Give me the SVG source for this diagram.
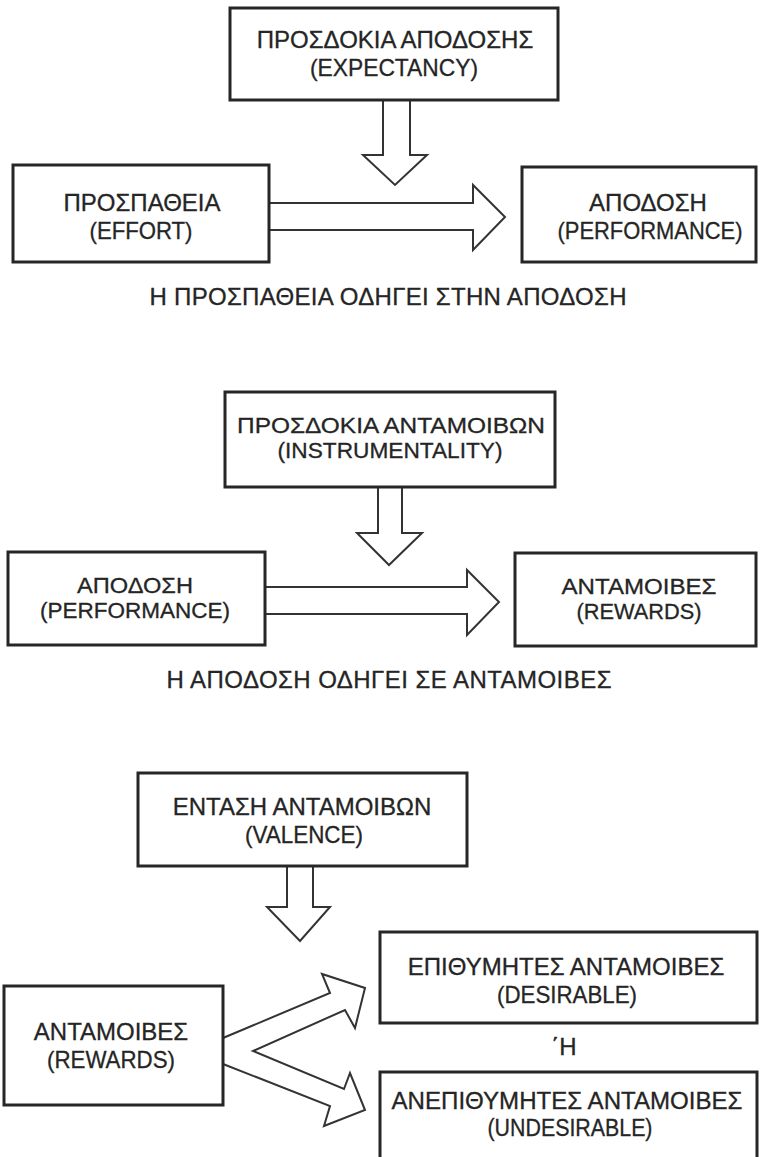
<svg xmlns="http://www.w3.org/2000/svg" width="760" height="1157" viewBox="0 0 760 1157">
<style>
.box{fill:#fff;stroke:#262626;stroke-width:3}
.arr{fill:#fff;stroke:#333;stroke-width:2;stroke-linejoin:miter}
text{font-family:"Liberation Sans",Arial,sans-serif;font-size:24px;fill:#252525;stroke:#252525;stroke-width:0.3;text-anchor:middle}
.s22{font-size:22px}
.s23{font-size:23px}
</style>
<rect width="760" height="1157" fill="#fff"/>
<g id="connectors">
<polygon class="arr" points="383,100 383,155 363,155 395,185 427,155 410,155 410,100"/>
<polyline class="arr" points="269,203 473,203 473,185 505,217 473,250 473,230 269,230"/>
<polygon class="arr" points="378,487 378,533 357,533 389,565 422,533 402,533 402,487"/>
<polyline class="arr" points="265,587 467,587 467,570 499,602 467,635 467,614 265,614"/>
<polygon class="arr" points="287,866 287,907 267,907 300,941 330,907 313,907 313,866"/>
<polyline class="arr" points="223,1038 330,993 322,974 365,988 355,1028 345,1010 253,1051 344,1089 350,1073 365,1110 324,1126 330,1106 223,1064"/>
</g>
<g id="expectancy">
<rect class="box" x="230" y="8" width="328" height="92"/>
<text x="395" y="48">ΠΡΟΣΔΟΚΙΑ ΑΠΟΔΟΣΗΣ</text>
<text x="394" y="76" textLength="168" lengthAdjust="spacingAndGlyphs">(EXPECTANCY)</text>
</g>
<g id="effort">
<rect class="box" x="13" y="165" width="256" height="97"/>
<text x="142" y="211">ΠΡΟΣΠΑΘΕΙΑ</text>
<text x="141" y="239" textLength="103" lengthAdjust="spacingAndGlyphs">(EFFORT)</text>
</g>
<g id="performance1">
<rect class="box" x="522" y="167" width="234" height="95"/>
<text x="648" y="211">ΑΠΟΔΟΣΗ</text>
<text x="650" y="239" textLength="185" lengthAdjust="spacingAndGlyphs">(PERFORMANCE)</text>
</g>
<g id="caption1">
<text x="388" y="305" textLength="477" lengthAdjust="spacing">Η ΠΡΟΣΠΑΘΕΙΑ ΟΔΗΓΕΙ ΣΤΗΝ ΑΠΟΔΟΣΗ</text>
</g>
<g id="instrumentality">
<rect class="box" x="225" y="392" width="330" height="95"/>
<text class="s22" x="391" y="433" textLength="308" lengthAdjust="spacingAndGlyphs">ΠΡΟΣΔΟΚΙΑ ΑΝΤΑΜΟΙΒΩΝ</text>
<text class="s22" x="390" y="458" textLength="225" lengthAdjust="spacingAndGlyphs">(INSTRUMENTALITY)</text>
</g>
<g id="performance2">
<rect class="box" x="8" y="552" width="257" height="93"/>
<text class="s22" x="135" y="593" textLength="116" lengthAdjust="spacingAndGlyphs">ΑΠΟΔΟΣΗ</text>
<text class="s22" x="135" y="618" textLength="190" lengthAdjust="spacingAndGlyphs">(PERFORMANCE)</text>
</g>
<g id="rewards1">
<rect class="box" x="515" y="553" width="241" height="93"/>
<text class="s22" x="639" y="594" textLength="155" lengthAdjust="spacingAndGlyphs">ΑΝΤΑΜΟΙΒΕΣ</text>
<text class="s22" x="639" y="619" textLength="125" lengthAdjust="spacingAndGlyphs">(REWARDS)</text>
</g>
<g id="caption2">
<text x="389" y="688" textLength="445" lengthAdjust="spacing">Η ΑΠΟΔΟΣΗ ΟΔΗΓΕΙ ΣΕ ΑΝΤΑΜΟΙΒΕΣ</text>
</g>
<g id="valence">
<rect class="box" x="138" y="773" width="329" height="93"/>
<text x="302" y="815">ΕΝΤΑΣΗ ΑΝΤΑΜΟΙΒΩΝ</text>
<text x="304" y="843" textLength="118" lengthAdjust="spacingAndGlyphs">(VALENCE)</text>
</g>
<g id="rewards2">
<rect class="box" x="4" y="986" width="219" height="119"/>
<text x="111" y="1040">ΑΝΤΑΜΟΙΒΕΣ</text>
<text x="111" y="1068" textLength="128" lengthAdjust="spacingAndGlyphs">(REWARDS)</text>
</g>
<g id="desirable">
<rect class="box" x="380" y="932" width="377" height="91"/>
<text x="566" y="975">ΕΠΙΘΥΜΗΤΕΣ ΑΝΤΑΜΟΙΒΕΣ</text>
<text x="567" y="1003" textLength="140" lengthAdjust="spacingAndGlyphs">(DESIRABLE)</text>
</g>
<g id="or">
<text x="564" y="1055">΄Η</text>
</g>
<g id="undesirable">
<rect class="box" x="380" y="1072" width="377" height="95"/>
<text class="s23" x="567" y="1109" textLength="351" lengthAdjust="spacingAndGlyphs">ΑΝΕΠΙΘΥΜΗΤΕΣ ΑΝΤΑΜΟΙΒΕΣ</text>
<text class="s23" x="570" y="1136" textLength="165" lengthAdjust="spacingAndGlyphs">(UNDESIRABLE)</text>
</g>
</svg>
